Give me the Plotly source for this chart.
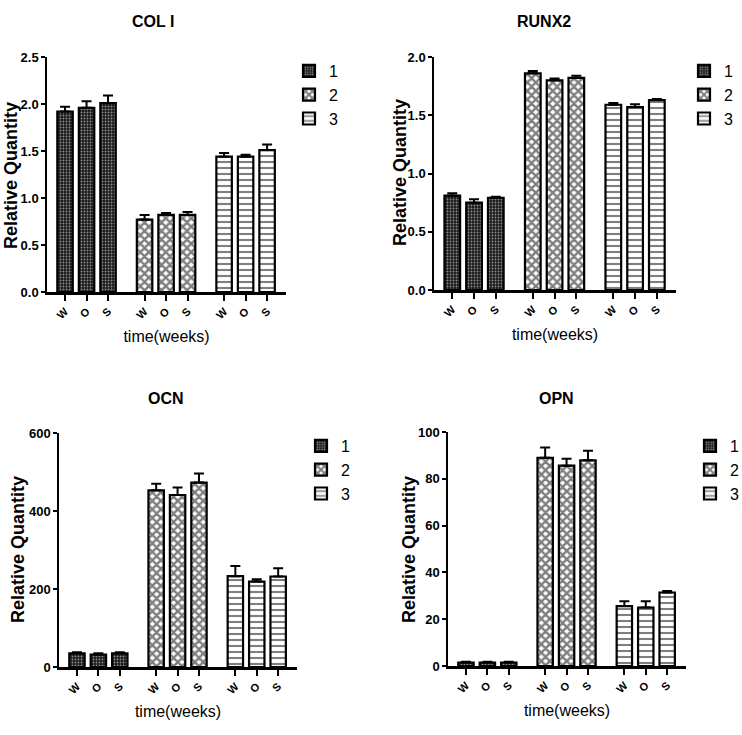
import plotly.graph_objects as go

# ---------------- data ----------------
panels = ["COL I", "RUNX2", "OCN", "OPN"]
groups = ["1", "2", "3"]
time_labels = ["W", "O", "S"]
y_title = "Relative Quantity"
x_title = "time(weeks)"

col1_vals = [[1.92, 1.96, 2.01], [0.77, 0.82, 0.82], [1.44, 1.44, 1.51]]
col1_errs = [[0.05, 0.07, 0.08], [0.05, 0.02, 0.03], [0.04, 0.02, 0.06]]

runx2_vals = [[0.81, 0.75, 0.79], [1.86, 1.80, 1.82], [1.59, 1.57, 1.63]]
runx2_errs = [[0.02, 0.03, 0.01], [0.02, 0.015, 0.02], [0.015, 0.025, 0.01]]

ocn_vals = [[35, 32, 35], [453, 441, 473], [233, 219, 232]]
ocn_errs = [[3, 3, 3], [17, 19, 23], [26, 6, 21]]

opn_vals = [[1.5, 1.5, 1.5], [89, 85.6, 87.9], [25.6, 25.0, 31.4]]
opn_errs = [[0.3, 0.3, 0.3], [4.4, 3.0, 4.1], [2.1, 2.7, 0.7]]

y_ranges = [[0, 2.5], [0, 2.0], [0, 600], [0, 100]]
y_dticks = [0.5, 0.5, 200, 20]
y_formats = [".1f", ".1f", "d", "d"]

all_vals = [col1_vals, runx2_vals, ocn_vals, opn_vals]
all_errs = [col1_errs, runx2_errs, ocn_errs, opn_errs]

# ---------------- layout constants ----------------
W, H = 742, 735
GROUP_STEP = 3.7
BAR_W = 0.72
FONT = "Liberation Sans, Arial, sans-serif"

# pixel boxes of each plot area: (left, right, top, bottom)
boxes = [(47, 286, 57, 292), (434, 676, 57, 290), (59, 297, 433, 667), (448, 686, 432, 666)]
legend_pos = [(289, 54), (684, 54), (301, 429), (690, 429)]
title_pos = [(153, 22), (544, 22), (166, 398), (556, 398)]
ytitle_pos = [(11, 176), (400, 172), (18, 550), (409, 550)]

patterns = [
    dict(shape=".", size=3, solidity=0.3, fgcolor="white", bgcolor="#1a1a1a"),
    dict(shape="x", size=6, solidity=0.65, fgcolor="black", bgcolor="white"),
    dict(shape="-", size=6, solidity=0.35, fgcolor="black", bgcolor="white"),
]

fig = go.Figure()
layout = dict(
    width=W, height=H,
    margin=dict(l=0, r=0, t=0, b=0, autoexpand=False),
    paper_bgcolor="white", plot_bgcolor="white",
    barmode="overlay",
    font=dict(family=FONT, color="black"),
    annotations=[],
)

tickvals = [g * GROUP_STEP + j for g in range(len(groups)) for j in range(len(time_labels))]
ticktext = [t for g in range(len(groups)) for t in time_labels]

for p, name in enumerate(panels):
    sfx = "" if p == 0 else str(p + 1)
    xa, ya = "x" + sfx, "y" + sfx
    lg = "legend" + sfx
    for g, gname in enumerate(groups):
        xs = [g * GROUP_STEP + j for j in range(len(time_labels))]
        fig.add_trace(go.Bar(
            x=xs, y=all_vals[p][g], name=gname, width=BAR_W,
            xaxis=xa, yaxis=ya, legend=lg,
            marker=dict(color="white", line=dict(color="black", width=2.2),
                        pattern=patterns[g]),
            error_y=dict(type="data", array=all_errs[p][g],
                         arrayminus=[0] * len(all_errs[p][g]),
                         color="black", thickness=2, width=5),
            cliponaxis=False,
        ))
    l, r, t, b = boxes[p]
    layout["xaxis" + sfx] = dict(
        domain=[l / W, r / W], anchor=ya,
        range=[-0.84, (len(groups) - 1) * GROUP_STEP + 2 + 0.88],
        tickmode="array", tickvals=tickvals, ticktext=ticktext,
        tickangle=-45, ticks="outside", ticklen=6, tickwidth=1.5, tickcolor="black",
        tickfont=dict(size=11, family=FONT, weight="bold"),
        showline=True, linecolor="black", linewidth=2.5,
        showgrid=False, zeroline=False,
        title=dict(text=x_title, font=dict(size=16, family=FONT), standoff=11),
    )
    layout["yaxis" + sfx] = dict(
        domain=[1 - b / H, 1 - t / H], anchor=xa,
        range=y_ranges[p], dtick=y_dticks[p], tickformat=y_formats[p],
        ticks="outside", ticklen=4, tickwidth=1.5, tickcolor="black",
        tickfont=dict(size=13, family=FONT, weight="bold"),
        showline=True, linecolor="black", linewidth=1.5,
        showgrid=False, zeroline=False,
    )
    lx, ly = legend_pos[p]
    layout[lg] = dict(
        x=lx / W, y=1 - ly / H, xanchor="left", yanchor="top",
        font=dict(size=16, family=FONT), bgcolor="rgba(0,0,0,0)",
        tracegroupgap=6, itemwidth=30,
    )
    tx, ty = title_pos[p]
    layout["annotations"].append(dict(
        text="<b>" + name + "</b>", x=tx / W, y=1 - ty / H, xref="paper", yref="paper",
        showarrow=False, font=dict(size=16, family=FONT), xanchor="center", yanchor="middle",
    ))
    yx, yy = ytitle_pos[p]
    layout["annotations"].append(dict(
        text="<b>" + y_title + "</b>", x=yx / W, y=1 - yy / H, xref="paper", yref="paper",
        showarrow=False, textangle=-90, font=dict(size=18, family=FONT),
        xanchor="center", yanchor="middle",
    ))

fig.update_layout(**layout)
fig.write_html("out.html", config={"displayModeBar": False},
               post_script="document.body.style.margin='0';")
